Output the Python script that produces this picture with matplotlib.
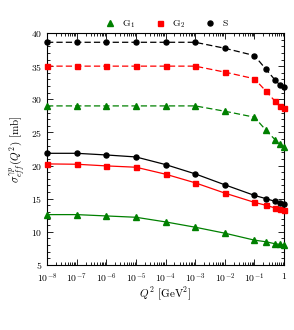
import matplotlib
matplotlib.use("Agg")
import matplotlib.pyplot as plt
from matplotlib.lines import Line2D
from matplotlib.ticker import FixedLocator, FixedFormatter, LogLocator, MultipleLocator, NullFormatter

plt.rcParams["font.family"] = "serif"
plt.rcParams["font.serif"] = ["cmr10"]
plt.rcParams["mathtext.fontset"] = "cm"
plt.rcParams["axes.formatter.use_mathtext"] = True

# Q^2 grid [GeV^2]
q2 = [1e-8, 1e-7, 1e-6, 1e-5, 1e-4, 1e-3, 1e-2, 1e-1, 0.25, 0.5, 0.75, 1.0]

# upper (dashed) curves
g1_dash = [29.0, 29.0, 29.0, 29.0, 29.0, 29.0, 28.2, 27.3, 25.3, 23.9, 23.2, 22.8]
g2_dash = [35.0, 35.0, 35.0, 35.0, 35.0, 35.0, 34.1, 33.1, 31.2, 29.7, 29.0, 28.7]
s_dash = [38.6, 38.6, 38.6, 38.6, 38.6, 38.6, 37.7, 36.6, 34.5, 32.9, 32.1, 31.8]

# lower (solid) curves
g1_solid = [12.6, 12.6, 12.4, 12.2, 11.5, 10.7, 9.8, 8.75, 8.5, 8.2, 8.1, 8.0]
g2_solid = [20.25, 20.2, 19.95, 19.75, 18.7, 17.4, 15.85, 14.45, 14.0, 13.6, 13.4, 13.25]
s_solid = [21.85, 21.85, 21.6, 21.3, 20.15, 18.75, 17.1, 15.5, 15.0, 14.6, 14.4, 14.2]

xtick_vals = [1e-8, 1e-7, 1e-6, 1e-5, 1e-4, 1e-3, 1e-2, 1e-1, 1.0]
xtick_labels = [r"$10^{-8}$", r"$10^{-7}$", r"$10^{-6}$", r"$10^{-5}$", r"$10^{-4}$",
                r"$10^{-3}$", r"$10^{-2}$", r"$10^{-1}$", r"$1$"]

GREEN = "#008000"
RED = "#ff0000"
BLACK = "#000000"

fig = plt.figure(figsize=(2.94, 3.30), dpi=100)
ax = fig.add_axes([0.16, 0.197, 0.806, 0.703])

series = [
    (g1_dash, g1_solid, GREEN, "^", 4.0),
    (g2_dash, g2_solid, RED, "s", 3.6),
    (s_dash, s_solid, BLACK, "o", 3.6),
]
for dash, solid, col, mk, ms in series:
    ax.plot(q2, dash, color=col, ls=(0, (5, 2.5)), lw=0.9, marker=mk, ms=ms, clip_on=False, zorder=3)
    ax.plot(q2, solid, color=col, ls="-", lw=0.9, marker=mk, ms=ms, clip_on=False, zorder=3)

ax.set_xscale("log")
ax.set_xlim(1e-8, 1.0)
ax.set_ylim(5, 40)
ax.xaxis.set_major_locator(FixedLocator(xtick_vals))
ax.xaxis.set_major_formatter(FixedFormatter(xtick_labels))
ax.xaxis.set_minor_locator(LogLocator(base=10, subs=range(2, 10), numticks=20))
ax.xaxis.set_minor_formatter(NullFormatter())
ax.yaxis.set_major_locator(MultipleLocator(5))
ax.yaxis.set_minor_locator(MultipleLocator(1))

ax.tick_params(which="both", direction="in", top=True, right=True, labelsize=7, width=0.6)
ax.tick_params(which="major", length=4)
ax.tick_params(which="minor", length=2)
ax.tick_params(axis="x", which="major", pad=4.5)
for sp in ax.spines.values():
    sp.set_linewidth(0.8)

ax.set_xlabel(r"$Q^2$ [GeV$^2$]", fontsize=8, labelpad=1)
ax.set_ylabel(r"$\sigma^{\gamma p}_{eff}(Q^2)$ [mb]", fontsize=8, labelpad=2)

handles = [
    Line2D([], [], color=GREEN, marker="^", ls="none", ms=4.0),
    Line2D([], [], color=RED, marker="s", ls="none", ms=3.6),
    Line2D([], [], color=BLACK, marker="o", ls="none", ms=3.6),
]
fig.legend(handles, [r"G$_1$", r"G$_2$", "S"], loc="center", bbox_to_anchor=(0.565, 0.927),
           ncol=3, frameon=False, fontsize=7, handlelength=1.0, handletextpad=0.8,
           columnspacing=2.0)

fig.savefig("out.png", dpi=100)
